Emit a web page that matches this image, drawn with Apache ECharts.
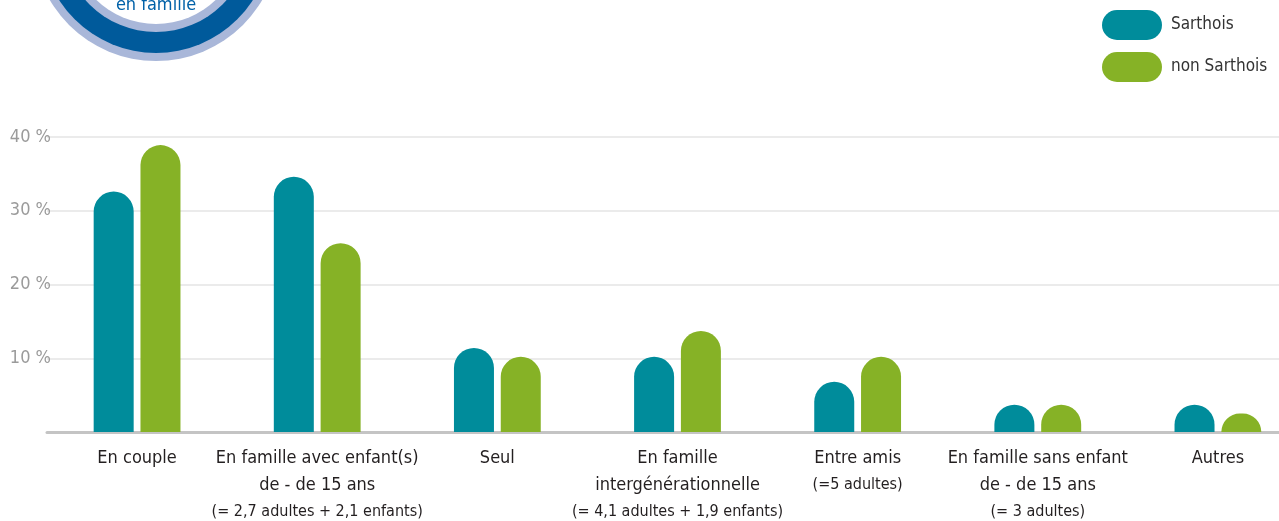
<!DOCTYPE html>
<html>
<head>
<meta charset="utf-8">
<script src="https://cdn.jsdelivr.net/npm/echarts@6/dist/echarts.min.js"></script>
<style>
  html, body { margin: 0; padding: 0; background: #fff; }
  #main { width: 1279px; height: 521px; }
</style>
</head>
<body>
<div id="main"></div>
<script>
  // données
  const categories = [
    'En couple',
    'En famille avec enfant(s)\nde - de 15 ans',
    'Seul',
    'En famille\nintergénérationnelle',
    'Entre amis',
    'En famille sans enfant\nde - de 15 ans',
    'Autres'
  ];
  const notes = [
    '',
    '(= 2,7 adultes + 2,1 enfants)',
    '',
    '(= 4,1 adultes + 1,9 enfants)',
    '(=5 adultes)',
    '(= 3 adultes)',
    ''
  ];
  const sarthois = [32.6, 34.6, 11.4, 10.2, 6.8, 3.7, 3.7];
  const nonSarthois = [38.9, 25.6, 10.2, 13.7, 10.2, 3.7, 2.5];
  const seriesNames = ['Sarthois', 'non Sarthois'];

  const font = '"Liberation Sans Narrow", "DejaVu Sans Condensed", sans-serif';
  const pill = 'path://M15,0 H45 A15,15 0 0 1 45,30 H15 A15,15 0 0 1 15,0 Z';

  let myChart = echarts.init(document.getElementById('main'));

  let option = {
    animation: false,
    textStyle: { fontFamily: font },
    legend: {
      orient: 'vertical',
      left: 1102,
      top: 10,
      padding: 0,
      itemWidth: 60,
      itemHeight: 31,
      itemGap: 12,
      icon: pill,
      textStyle: { fontSize: 17, color: '#333', fontFamily: font, padding: [3, 0, 0, 4] },
      data: seriesNames
    },
    // logo en haut à gauche (coupé par le bord)
    graphic: [
      { type: 'circle', shape: { cx: 156, cy: -62, r: 123 }, style: { fill: '#a9b7d9' } },
      { type: 'circle', shape: { cx: 156, cy: -62, r: 115 }, style: { fill: '#005a9b' } },
      { type: 'circle', shape: { cx: 156, cy: -62, r: 94 }, style: { fill: '#a9b7d9' } },
      { type: 'circle', shape: { cx: 156, cy: -62, r: 86 }, style: { fill: '#ffffff' } },
      {
        type: 'text', x: 156, y: 14,
        style: {
          text: 'en famille', fill: '#0061a8', fontSize: 18, fontFamily: font,
          align: 'center', verticalAlign: 'bottom'
        }
      }
    ],
    grid: {
      left: 47,
      top: 137,
      width: 1261,
      bottom: 89,
      outerBoundsMode: 'none'
    },
    xAxis: {
      type: 'category',
      data: categories,
      axisTick: { show: false },
      axisLine: { lineStyle: { color: '#c4c4c4', width: 3 } },
      axisLabel: {
        interval: 0,
        margin: 13,
        formatter: function (value, index) {
          let s = value.split('\n').map(l => '{a|' + l + '}').join('\n');
          if (notes[index]) s += '\n{b|' + notes[index] + '}';
          return s;
        },
        rich: {
          a: { fontSize: 18, lineHeight: 27, color: '#231f20', fontFamily: font },
          b: { fontSize: 16, lineHeight: 25, color: '#231f20', fontFamily: font }
        }
      }
    },
    yAxis: {
      type: 'value',
      min: 0,
      max: 40,
      interval: 10,
      axisLine: { show: false },
      axisTick: { show: false },
      splitLine: { lineStyle: { color: '#e4e4e4', width: 1.5 } },
      axisLabel: {
        margin: -4,
        fontSize: 18,
        color: '#9b9b9b',
        fontFamily: font,
        formatter: function (v) { return v === 0 ? '' : v + ' %'; }
      }
    },
    series: [
      {
        name: seriesNames[0],
        type: 'bar',
        barWidth: 40,
        barGap: '17%',
        itemStyle: { color: '#008c9b', borderRadius: [20, 20, 0, 0] },
        data: sarthois
      },
      {
        name: seriesNames[1],
        type: 'bar',
        barWidth: 40,
        itemStyle: { color: '#86b226', borderRadius: [20, 20, 0, 0] },
        data: nonSarthois
      }
    ]
  };
  myChart.setOption(option);
</script>
</body>
</html>
